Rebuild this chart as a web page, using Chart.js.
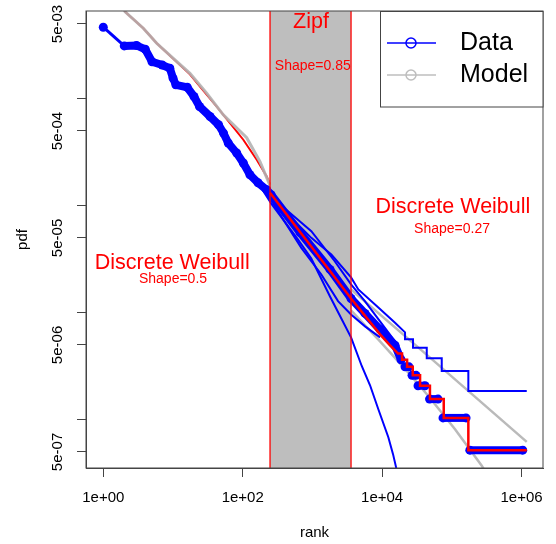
<!DOCTYPE html>
<html><head><meta charset="utf-8">
<script src="https://cdn.jsdelivr.net/npm/chart.js@4/dist/chart.umd.min.js"></script>
<style>html,body{margin:0;padding:0;background:#fff;}canvas{display:block;}</style>
</head><body>
<canvas id="c" width="556" height="544"></canvas>
<script>
// ---------- data ----------
const xTickValues = [1, 1e2, 1e4, 1e6];
const xTickLabels = ['1e+00', '1e+02', '1e+04', '1e+06'];
const yTickValues = [5e-7, 1e-6, 5e-6, 1e-5, 5e-5, 1e-4, 5e-4, 1e-3, 5e-3];
const yTickLabels = ['5e-07', '', '5e-06', '', '5e-05', '', '5e-04', '', '5e-03'];
const zipfRange = [246.5, 3580];
const regionNames = ['Discrete Weibull', 'Zipf', 'Discrete Weibull'];
const regionShapes = ['Shape=0.5', 'Shape=0.85', 'Shape=0.27'];
const legendLabels = ['Data', 'Model'];

// observed data (main sample)
const dataRank = [1, 2, 3, 4, 5, 7, 9, 10, 11, 16, 20, 24, 34, 45, 53, 62, 82, 102, 127, 166, 221, 255,
  664, 1788, 3580, 5685, 9330, 15310, 18670, 20000, 21300, 24300, 25500, 26850, 30650, 31700,
  32730, 41260, 45000, 47860, 63390, 69000, 74700, 159800, 170000, 181000, 1040000];
const dataPdf = [4.66e-3, 3.12e-3, 3.15e-3, 2.90e-3, 2.22e-3, 2.07e-3, 1.93e-3, 1.56e-3, 1.35e-3, 1.28e-3,
  1.05e-3, 8.46e-4, 6.83e-4, 5.71e-4, 4.78e-4, 3.86e-4, 3.11e-4, 2.51e-4, 1.95e-4, 1.64e-4, 1.41e-4, 1.27e-4,
  5.62e-5, 2.54e-5, 1.36e-5, 9.86e-6, 6.99e-6, 4.96e-6, 3.64e-6, null, 3.12e-6, 3.12e-6, null, 2.6e-6, 2.6e-6, null,
  2.08e-6, 2.08e-6, null, 1.56e-6, 1.56e-6, null, 1.04e-6, 1.04e-6, null, 5.2e-7, 5.2e-7];

// other observed samples
const sampleARank = [102, 166, 261, 498, 964, 1867, 3580, 4555, 8820, 15300, 21300, 21300, 27740, 27740,
  43650, 43650, 71600, 71600, 172400, 172400, 1187000];
const sampleAPdf = [2.51e-4, 1.68e-4, 1.22e-4, 7.70e-5, 5.01e-5, 3.50e-5, 2.14e-5, 1.65e-5, 1.121e-5, 8.07e-6,
  6.56e-6, 5.64e-6, 5.64e-6, 4.70e-6, 4.70e-6, 3.76e-6, 3.76e-6, 2.85e-6, 2.85e-6, 1.86e-6, 1.86e-6];
const sampleBRank = [166, 257, 622, 964, 1788, 3580, 5097, 6706, 8820, 12270, 14330, 15830, 16910];
const sampleBPdf = [1.64e-4, 1.047e-4, 4.83e-5, 3.21e-5, 1.42e-5, 5.89e-6, 3.18e-6, 2.10e-6, 1.254e-6,
  6.87e-7, 4.77e-7, 3.61e-7, 2.79e-7];
const sampleCRank = [166, 254.7, 446.7, 964.4, 2089, 3580, 5685, 9330, 15310];
const sampleCPdf = [1.64e-4, 1.217e-4, 8.87e-5, 5.78e-5, 3.03e-5, 1.84e-5, 1.275e-5, 8.30e-6, 5.40e-6];
const sampleDRank = [166, 254.7, 321, 693, 1342, 2330, 3580, 5685, 9330];
const sampleDPdf = [1.64e-4, 1.141e-4, 8.87e-5, 4.04e-5, 2.28e-5, 1.284e-5, 9.65e-6, 7.46e-6, 5.89e-6];

// piecewise fitted model (red)
const fitLeftRank = [1.74, 2.05, 3.75, 5.84, 10.1, 17.5, 24.4, 42.4, 65.7, 102, 158.8, 221, 246.5];
const fitLeftPdf = [8.93e-3, 6.51e-3, 4.56e-3, 3.30e-3, 2.37e-3, 1.69e-3, 1.30e-3, 8.46e-4, 5.92e-4, 4.14e-4,
  2.69e-4, 1.88e-4, 1.574e-4];
const fitRightRank = [246.5, 3580, 9330, 12980, 16900, 19300, 19300, 22800, 22800, 27500, 27500, 35000, 35000,
  48500, 48500, 76500, 76500, 172400, 172400, 1190000];
const fitRightPdf = [1.326e-4, 1.36e-5, 6.28e-6, 4.96e-6, 4.16e-6, 4.16e-6, 3.64e-6, 3.64e-6, 3.12e-6, 3.12e-6,
  2.6e-6, 2.6e-6, 2.08e-6, 2.08e-6, 1.56e-6, 1.56e-6, 1.04e-6, 1.04e-6, 5.2e-7, 5.2e-7];

// model curves (grey)
const modelLeftRank = [1.74, 2.05, 3.75, 5.84, 10.1, 17.5, 30.4, 52.7, 114, 177, 246.5];
const modelLeftPdf = [8.93e-3, 6.51e-3, 4.56e-3, 3.30e-3, 2.39e-3, 1.73e-3, 1.13e-3, 7.08e-4, 4.32e-4, 2.58e-4, 1.54e-4];
const modelUpperRank = [3580, 48650, 1187000];
const modelUpperPdf = [1.65e-5, 3.81e-6, 6.21e-7];
const modelLowerRank = [3580, 9330, 23760, 46000, 111100, 268500, 353300];
const modelLowerPdf = [1.051e-5, 5.40e-6, 2.76e-6, 1.669e-6, 8.16e-7, 3.71e-7, 2.79e-7];

// ---------- chart ----------
const FONT = "'Liberation Sans', Arial, Helvetica, sans-serif";
const BLUE = '#0000FF', RED = '#FF0000', GREY = 'rgba(178,178,178,0.9)';
const pts = (xs, ys) => xs.map((x, i) => ({x: x, y: ys[i]}));
const line = (xs, ys, color, width, order, extra) => Object.assign({
  data: pts(xs, ys), borderColor: color, borderWidth: width, pointRadius: 0,
  fill: false, tension: 0, spanGaps: false, order: order, clip: 0
}, extra || {});

const overlay = {
  id: 'overlay',
  beforeDatasetsDraw(chart) {
    const {ctx, chartArea: a, scales: {x}} = chart;
    const x0 = x.getPixelForValue(zipfRange[0]), x1 = x.getPixelForValue(zipfRange[1]);
    ctx.save();
    ctx.fillStyle = '#BEBEBE';
    ctx.fillRect(x0, a.top, x1 - x0, a.bottom - a.top);
    ctx.restore();
  },
  afterDatasetsDraw(chart) {
    const {ctx, chartArea: a, scales: {x, y}} = chart;
    ctx.save();
    // region boundaries
    ctx.strokeStyle = RED; ctx.lineWidth = 1.3;
    zipfRange.forEach(v => {
      const px = x.getPixelForValue(v);
      ctx.beginPath(); ctx.moveTo(px, a.top); ctx.lineTo(px, a.bottom); ctx.stroke();
    });
    // frame
    ctx.strokeStyle = '#444'; ctx.lineWidth = 1;
    ctx.strokeRect(a.left, a.top, a.right - a.left, a.bottom - a.top);
    // region texts
    const nameAt = [[9.74, 2.92e-5], [955, 5.2e-3], [1.034e5, 9.8e-5]];
    const shapeAt = [[10.0, 2.08e-5], [1013, 2.03e-3], [1.007e5, 6.1e-5]];
    ctx.fillStyle = RED; ctx.textAlign = 'center'; ctx.textBaseline = 'middle';
    ctx.font = '21.5px ' + FONT;
    regionNames.forEach((t, i) => ctx.fillText(t, x.getPixelForValue(nameAt[i][0]), y.getPixelForValue(nameAt[i][1])));
    ctx.font = '14px ' + FONT;
    regionShapes.forEach((t, i) => ctx.fillText(t, x.getPixelForValue(shapeAt[i][0]), y.getPixelForValue(shapeAt[i][1])));
    // legend
    const bw = 163, bh = 96;
    const bx = a.right - bw, by = a.top;
    ctx.fillStyle = '#fff'; ctx.fillRect(bx, by, bw, bh);
    ctx.strokeStyle = '#444'; ctx.lineWidth = 1;
    ctx.strokeRect(bx + 0.5, by + 0.5, bw - 0.5, bh - 0.5);
    const cols = [BLUE, 'rgba(190,190,190,1)'];
    legendLabels.forEach((t, i) => {
      const ly = by + 32 + i * 32;
      ctx.strokeStyle = cols[i]; ctx.lineWidth = 1.5;
      ctx.beginPath(); ctx.moveTo(bx + 7, ly); ctx.lineTo(bx + 56, ly); ctx.stroke();
      ctx.beginPath(); ctx.arc(bx + 31, ly, 5, 0, Math.PI * 2); ctx.stroke();
      ctx.fillStyle = '#000'; ctx.textAlign = 'left'; ctx.textBaseline = 'middle';
      ctx.font = '25px ' + FONT;
      ctx.fillText(t, bx + 80, ly);
    });
    ctx.restore();
  }
};

new Chart(document.getElementById('c'), {
  type: 'line',
  data: {
    datasets: [
      line(fitRightRank, fitRightPdf, RED, 2.5, 0),
      line(dataRank, dataPdf, BLUE, 8, 1, {
        pointRadius: 4.5, pointBackgroundColor: BLUE, pointBorderColor: BLUE, pointBorderWidth: 0,
        segment: {borderWidth: c => c.p0DataIndex === 0 ? 3 : 8}
      }),
      line(sampleARank, sampleAPdf, BLUE, 2, 2),
      line(sampleBRank, sampleBPdf, BLUE, 2, 2),
      line(sampleCRank, sampleCPdf, BLUE, 2, 2),
      line(sampleDRank, sampleDPdf, BLUE, 2, 2),
      line(modelLeftRank, modelLeftPdf, GREY, 3, 3),
      line(modelUpperRank, modelUpperPdf, GREY, 2.5, 3),
      line(modelLowerRank, modelLowerPdf, GREY, 2.5, 3),
      line(fitLeftRank, fitLeftPdf, RED, 2, 4)
    ]
  },
  options: {
    responsive: false, animation: false, devicePixelRatio: 1,
    layout: {padding: {left: 0, top: 11, right: 13, bottom: 0}},
    plugins: {legend: {display: false}, tooltip: {enabled: false}},
    scales: {
      x: {
        type: 'logarithmic', min: 0.565, max: 2.03e6,
        afterBuildTicks: s => { s.ticks = xTickValues.map(v => ({value: v})); },
        afterFit: s => { s.height = 76; },
        ticks: {autoSkip: false, maxRotation: 0, padding: 12, color: '#000',
          font: {family: FONT, size: 15}, callback: (v, i) => xTickLabels[i]},
        grid: {display: true, drawOnChartArea: false, drawTicks: true, tickLength: 9, color: '#444'},
        border: {display: true, color: '#444'},
        title: {display: true, text: 'rank', color: '#000', font: {family: FONT, size: 15}, padding: {top: 0, bottom: 2}}
      },
      y: {
        type: 'logarithmic', min: 3.54e-7, max: 6.61e-3,
        afterBuildTicks: s => { s.ticks = yTickValues.map(v => ({value: v})); },
        afterFit: s => { s.width = 86; },
        ticks: {autoSkip: false, minRotation: 90, maxRotation: 90, crossAlign: 'center', padding: 0,
          color: '#000', font: {family: FONT, size: 15}, callback: (v, i) => yTickLabels[i]},
        grid: {display: true, drawOnChartArea: false, drawTicks: true, tickLength: 9, color: '#444'},
        border: {display: true, color: '#444'},
        title: {display: true, text: 'pdf', color: '#000', font: {family: FONT, size: 15}, padding: {top: 14, bottom: 0}}
      }
    }
  },
  plugins: [overlay]
});
</script>
</body></html>
